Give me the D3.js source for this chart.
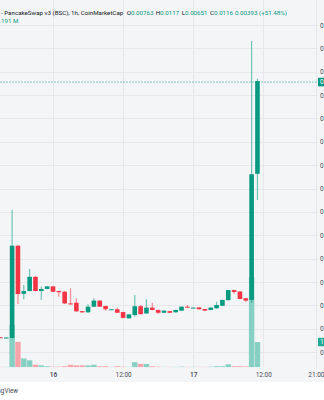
<!DOCTYPE html>
<html lang="en">
	<head>
		<meta charset="utf-8">
		<title>PancakeSwap v3 (BSC), 1h</title>
		<script type="text/javascript" src="https://cdn.jsdelivr.net/npm/d3@7"></script>
		<style type="text/css">
			body { margin: 0; background: #fff; }
			svg { display: block; }
			.axis text { font-family: Roboto, "Noto Sans", sans-serif; fill: #4a4e59; }
		</style>
	</head>
	<body>
		<script type="text/javascript">

			//Width and height
			var w = 324;
			var h = 400;

			//Hourly candles, day + hour
			var times = ["15 15:00", "15 16:00", "15 17:00", "15 18:00", "15 19:00", "15 20:00", "15 21:00", "15 22:00", "15 23:00",
				"16 00:00", "16 01:00", "16 02:00", "16 03:00", "16 04:00", "16 05:00", "16 06:00", "16 07:00",
				"16 08:00", "16 09:00", "16 10:00", "16 11:00", "16 12:00", "16 13:00", "16 14:00", "16 15:00",
				"16 16:00", "16 17:00", "16 18:00", "16 19:00", "16 20:00", "16 21:00", "16 22:00", "16 23:00",
				"17 00:00", "17 01:00", "17 02:00", "17 03:00", "17 04:00", "17 05:00", "17 06:00", "17 07:00",
				"17 08:00", "17 09:00", "17 10:00", "17 11:00"];

			var open = [0.00063, 0.00061, 0.00060, 0.00455, 0.00249, 0.00261, 0.00322, 0.00261, 0.00270,
				0.00281, 0.00261, 0.00258, 0.00208, 0.00211, 0.00175, 0.00170, 0.00194,
				0.00220, 0.00197, 0.00182, 0.00183, 0.00171, 0.00144, 0.00158, 0.00196,
				0.00165, 0.00190, 0.00180, 0.00168, 0.00175, 0.00170, 0.00177, 0.00194,
				0.00189, 0.00191, 0.00184, 0.00180, 0.00187, 0.00198, 0.00222, 0.00265,
				0.00259, 0.00230, 0.00223, 0.00763];

			var high = [0.00064, 0.00063, 0.00608, 0.00458, 0.00287, 0.00355, 0.00325, 0.00280, 0.00283,
				0.00282, 0.00262, 0.00261, 0.00273, 0.00230, 0.00176, 0.00204, 0.00230,
				0.00221, 0.00198, 0.00184, 0.00190, 0.00172, 0.00162, 0.00244, 0.00201,
				0.00226, 0.00211, 0.00181, 0.00178, 0.00176, 0.00181, 0.00195, 0.00201,
				0.00191, 0.00192, 0.00185, 0.00191, 0.00215, 0.00224, 0.00267, 0.00266,
				0.00260, 0.00231, 0.01332, 0.0117];

			var low = [0.00061, 0.00060, 0.00059, 0.00206, 0.00226, 0.00260, 0.00260, 0.00223, 0.00269,
				0.00257, 0.00237, 0.00206, 0.00203, 0.00173, 0.00167, 0.00167, 0.00193,
				0.00193, 0.00177, 0.00181, 0.00167, 0.00144, 0.00143, 0.00152, 0.00161,
				0.00164, 0.00179, 0.00163, 0.00167, 0.00167, 0.00169, 0.00176, 0.00189,
				0.00188, 0.00182, 0.00176, 0.00179, 0.00186, 0.00197, 0.00221, 0.00248,
				0.00226, 0.00214, 0.00211, 0.00651];

			var close = [0.00062, 0.00062, 0.00455, 0.00248, 0.00261, 0.00322, 0.00261, 0.00270, 0.00281,
				0.00258, 0.00256, 0.00208, 0.00204, 0.00174, 0.00170, 0.00194, 0.00220,
				0.00194, 0.00183, 0.00183, 0.00168, 0.00146, 0.00161, 0.00196, 0.00162,
				0.00190, 0.00180, 0.00168, 0.00177, 0.00168, 0.00180, 0.00194, 0.00190,
				0.00190, 0.00183, 0.00177, 0.00190, 0.00201, 0.00223, 0.00265, 0.00257,
				0.00227, 0.00220, 0.00761, 0.0116];

			//Volume in millions
			var volume = [0.02, 0.02, 2.0, 1.20, 0.42, 0.33, 0.12, 0.09, 0.05,
				0.03, 0.03, 0.05, 0.12, 0.09, 0.09, 0.09, 0.12,
				0.05, 0.05, 0.02, 0.05, 0.03, 0.02, 0.24, 0.16,
				0.16, 0.05, 0.03, 0.02, 0.02, 0.02, 0.03, 0.02,
				0.02, 0.02, 0.02, 0.03, 0.05, 0.05, 0.14, 0.05,
				0.05, 0.04, 4.25, 1.191];

			//Axis ticks
			var priceTicks = [0, 0.001, 0.002, 0.003, 0.004, 0.005, 0.006, 0.007, 0.008, 0.009, 0.010, 0.011, 0.012, 0.013, 0.014];
			var timeTicks = ["16 00:00", "16 12:00", "17 00:00", "17 12:00", "17 21:00"];
			var timeLabels = ["16", "12:00", "17", "12:00", "21:00"];

			var green = "#089981";
			var red = "#f23645";
			var paneRight = 318;
			var paneBottom = 367.3;

			var parseTime = d3.timeParse("%d %H:%M");

			var dataset = times.map(function(t, i) {
				return { date: parseTime(t), o: open[i], h: high[i], l: low[i], c: close[i], v: volume[i] };
			});

			//Scales
			var xScale = d3.scaleTime()
				.domain([parseTime("16 00:00"), parseTime("17 12:00")])
				.range([53, 263.3]);

			var yScale = d3.scaleLinear()
				.domain([0, 0.014])
				.range([352, 25]);

			var vScale = d3.scaleLinear()
				.domain([0, 5])
				.range([paneBottom, paneBottom - 106]);

			var svg = d3.select("body")
				.append("svg")
				.attr("width", w)
				.attr("height", h);

			//Backgrounds
			svg.append("rect")
				.attr("width", w).attr("height", h)
				.attr("fill", "#ffffff");
			svg.append("rect")
				.attr("width", w).attr("height", 382)
				.attr("fill", "#f4f5f7");

			svg.append("clipPath").attr("id", "pane")
				.append("rect")
				.attr("width", paneRight).attr("height", paneBottom);

			var pane = svg.append("g").attr("clip-path", "url(#pane)");

			//Grid
			pane.selectAll("line.hgrid")
				.data(priceTicks)
				.enter()
				.append("line")
				.attr("class", "hgrid")
				.attr("x1", 0).attr("x2", paneRight)
				.attr("y1", function(d) { return Math.round(yScale(d)) + 0.5; })
				.attr("y2", function(d) { return Math.round(yScale(d)) + 0.5; })
				.attr("stroke", "#e6e8ec");

			pane.selectAll("line.vgrid")
				.data(timeTicks)
				.enter()
				.append("line")
				.attr("class", "vgrid")
				.attr("x1", function(d) { return Math.round(xScale(parseTime(d))) + 0.5; })
				.attr("x2", function(d) { return Math.round(xScale(parseTime(d))) + 0.5; })
				.attr("y1", 0).attr("y2", paneBottom)
				.attr("stroke", "#e6e8ec");

			//Volume bars
			pane.selectAll("rect.vol")
				.data(dataset)
				.enter()
				.append("rect")
				.attr("class", "vol")
				.attr("x", function(d) { return xScale(d.date) - 2.7; })
				.attr("width", 5.4)
				.attr("y", function(d) { return vScale(d.v); })
				.attr("height", function(d) { return paneBottom - vScale(d.v); })
				.attr("fill", function(d) { return d.c >= d.o ? "#86cfc3" : "#f7a3aa"; });

			//Current price line
			pane.append("line")
				.attr("x1", 0).attr("x2", paneRight)
				.attr("y1", yScale(close[close.length - 1]) + 1)
				.attr("y2", yScale(close[close.length - 1]) + 1)
				.attr("stroke", green)
				.attr("stroke-opacity", 0.45)
				.attr("stroke-dasharray", "2,1");

			//Wicks
			pane.selectAll("line.wick")
				.data(dataset)
				.enter()
				.append("line")
				.attr("class", "wick")
				.attr("x1", function(d) { return xScale(d.date); })
				.attr("x2", function(d) { return xScale(d.date); })
				.attr("y1", function(d) { return yScale(d.h); })
				.attr("y2", function(d) { return yScale(d.l); })
				.attr("stroke", function(d) { return d.c >= d.o ? green : red; })
				.attr("stroke-opacity", 0.55)
				.attr("stroke-width", 1.2);

			//Bodies
			pane.selectAll("rect.body")
				.data(dataset)
				.enter()
				.append("rect")
				.attr("class", "body")
				.attr("x", function(d) { return xScale(d.date) - 2.3; })
				.attr("width", 4.6)
				.attr("y", function(d) { return yScale(Math.max(d.o, d.c)); })
				.attr("height", function(d) { return Math.max(1, Math.abs(yScale(d.o) - yScale(d.c))); })
				.attr("fill", function(d) { return d.c >= d.o ? green : red; });

			//Price axis
			var yAxis = d3.axisRight(yScale)
				.tickValues(priceTicks)
				.tickSize(0)
				.tickPadding(2)
				.tickFormat(d3.format(".5f"));

			svg.append("g")
				.attr("class", "axis")
				.attr("transform", "translate(" + paneRight + ",0)")
				.call(yAxis)
				.call(function(g) { g.select(".domain").remove(); })
				.selectAll("text")
				.attr("font-size", "6.5px");

			//Time axis
			var xAxis = d3.axisBottom(xScale)
				.tickValues(timeTicks.map(parseTime))
				.tickSize(0)
				.tickPadding(5)
				.tickFormat(function(d, i) { return timeLabels[i]; });

			svg.append("g")
				.attr("class", "axis")
				.attr("transform", "translate(0," + paneBottom + ")")
				.call(xAxis)
				.call(function(g) { g.select(".domain").remove(); })
				.selectAll("text")
				.attr("font-size", "6.5px")
				.attr("font-weight", function(d, i) { return timeLabels[i].indexOf(":") < 0 ? 600 : 400; });

			//Price and volume markers on the axis
			var lastY = yScale(close[close.length - 1]) + 1;
			svg.append("rect")
				.attr("x", paneRight).attr("y", lastY - 4.3)
				.attr("width", 10).attr("height", 8.6)
				.attr("fill", green);
			svg.append("text")
				.attr("x", paneRight + 2).attr("y", lastY + 2.3)
				.attr("font-family", "Roboto, sans-serif")
				.attr("font-size", "6.5px")
				.attr("fill", "#ffffff")
				.text(d3.format(".5f")(close[close.length - 1]));

			var lastV = vScale(volume[volume.length - 1]);
			svg.append("rect")
				.attr("x", paneRight).attr("y", lastV - 4.2)
				.attr("width", 10).attr("height", 8.4)
				.attr("fill", "#22ab94");
			svg.append("text")
				.attr("x", paneRight + 2).attr("y", lastV + 2.3)
				.attr("font-family", "Roboto, sans-serif")
				.attr("font-size", "6.5px")
				.attr("fill", "#ffffff")
				.text(volume[volume.length - 1] + "M");

			//Legend
			var legend = svg.append("text")
				.attr("y", 15)
				.attr("font-family", "Roboto, sans-serif")
				.attr("font-size", "6.2px")
				.attr("fill", "#131722");

			legend.append("tspan").attr("x", 1).text("- PancakeSwap v3 (BSC), 1h, CoinMarketCap");
			legend.append("tspan").attr("x", 126.7).text("O");
			legend.append("tspan").attr("fill", green).text(open[open.length - 1]);
			legend.append("tspan").attr("x", 155.7).text("H");
			legend.append("tspan").attr("fill", green).text(high[high.length - 1]);
			legend.append("tspan").attr("x", 181.7).text("L");
			legend.append("tspan").attr("fill", green).text(low[low.length - 1]);
			legend.append("tspan").attr("x", 210).text("C");
			legend.append("tspan").attr("fill", green).text(close[close.length - 1]);
			legend.append("tspan").attr("x", 235).attr("fill", green).text("0.00393 (+51.48%)");

			svg.append("text")
				.attr("x", 18.5).attr("y", 22.8)
				.attr("text-anchor", "end")
				.attr("font-family", "Roboto, sans-serif")
				.attr("font-size", "6.2px")
				.attr("fill", green)
				.text("1.191 M");

			//Footer
			svg.append("text")
				.attr("x", 18).attr("y", 393)
				.attr("text-anchor", "end")
				.attr("font-family", "Roboto, sans-serif")
				.attr("font-size", "6.3px")
				.attr("fill", "#434651")
				.text("TradingView");

		</script>
	</body>
</html>
